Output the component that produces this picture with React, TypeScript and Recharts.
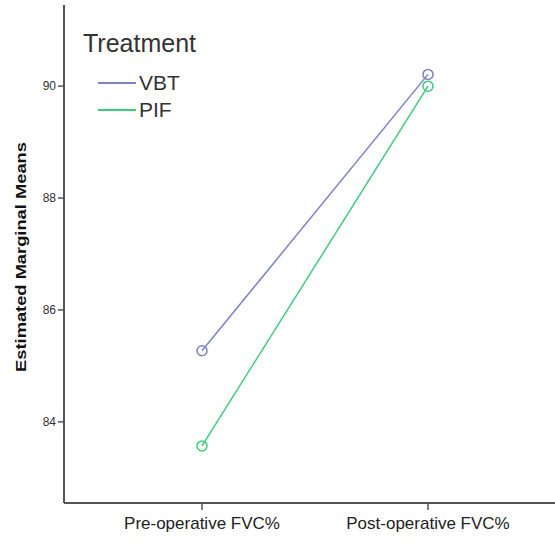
import React from 'react';
import { LineChart, Line, XAxis, YAxis } from 'recharts';

const categories = ['Pre-operative FVC%', 'Post-operative FVC%'];
const vbtMeans = [85.27, 90.21];
const pifMeans = [83.57, 90.0];
const yTicks = [84, 86, 88, 90];

const data = categories.map((name, i) => ({ name, VBT: vbtMeans[i], PIF: pifMeans[i] }));

const FONT = '"Liberation Sans", Arial, sans-serif';
const VBT_COLOR = '#7b82c8';
const PIF_COLOR = '#3fcc7c';
const FRAME = '#555555';

const App: React.FC = () => {
  return (
    <div style={{ position: 'fixed', left: 0, top: 0, width: 555, height: 546, overflow: 'hidden', background: '#fff', fontFamily: FONT }}>
      <LineChart width={600} height={546} data={data} margin={{ top: 5, right: 34, left: 0, bottom: 0 }}>
        <XAxis
          dataKey="name"
          height={43}
          padding={{ left: 138, right: 138 }}
          axisLine={{ stroke: FRAME, strokeWidth: 2 }}
          tickLine={{ stroke: FRAME, strokeWidth: 1.5 }}
          tickSize={7}
          tick={{ fill: '#222', fontSize: 17, fontFamily: FONT, dy: 5 }}
        />
        <XAxis xAxisId="top" orientation="top" dataKey="name" height={0} tick={false} tickLine={false} axisLine={{ stroke: FRAME, strokeWidth: 2 }} />
        <YAxis
          width={64}
          domain={[82.55, 91.45]}
          ticks={yTicks}
          axisLine={{ stroke: FRAME, strokeWidth: 2 }}
          tickLine={{ stroke: FRAME, strokeWidth: 1.5 }}
          tickSize={6}
          tick={{ fill: '#333', fontSize: 12, fontFamily: FONT }}
        />
        <Line dataKey="VBT" stroke={VBT_COLOR} strokeWidth={1.5} dot={{ r: 5, stroke: VBT_COLOR, strokeWidth: 1.5, fill: 'none' }} isAnimationActive={false} />
        <Line dataKey="PIF" stroke={PIF_COLOR} strokeWidth={1.5} dot={{ r: 5, stroke: PIF_COLOR, strokeWidth: 1.5, fill: 'none' }} isAnimationActive={false} />
      </LineChart>
      <div style={{ position: 'absolute', left: 20, top: 257, transform: 'translate(-50%, -50%) rotate(-90deg) scaleX(1.22)', whiteSpace: 'nowrap', fontWeight: 'bold', fontSize: 15, color: '#111' }}>
        Estimated Marginal Means
      </div>
      <div style={{ position: 'absolute', left: 83, top: 29, fontSize: 25, color: '#333' }}>Treatment</div>
      {[
        { label: 'VBT', color: VBT_COLOR, top: 71 },
        { label: 'PIF', color: PIF_COLOR, top: 98 },
      ].map((item) => (
        <div key={item.label} style={{ position: 'absolute', left: 98, top: item.top, display: 'flex', alignItems: 'center', fontSize: 21, color: '#333' }}>
          <span style={{ display: 'inline-block', width: 38, height: 2, background: item.color, marginRight: 3 }} />
          {item.label}
        </div>
      ))}
    </div>
  );
};

export default App;
